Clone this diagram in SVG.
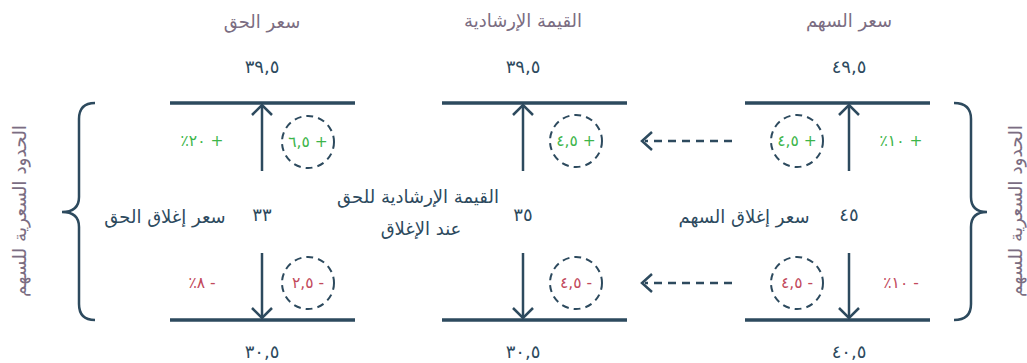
<svg xmlns="http://www.w3.org/2000/svg" width="1027" height="363" viewBox="0 0 1027 363">
<defs>
<style>
text{font-family:"DejaVu Sans","Noto Sans",sans-serif;text-anchor:middle;dominant-baseline:central}
.hdr{fill:#7b6d82;font-size:18px}
.num{fill:#2d4a5e;font-size:18px;direction:ltr;unicode-bidi:bidi-override}
.lbl{fill:#2d4a5e;font-size:18px}
.g{fill:#3db54a;font-size:15.5px;direction:ltr;unicode-bidi:bidi-override}
.r{fill:#c24a5c;font-size:15.5px;direction:ltr;unicode-bidi:bidi-override}
.bar{stroke:#2d4a5e;stroke-width:3.5;fill:none}
.arr{stroke:#2d4a5e;stroke-width:2.5;fill:none}
.circ{stroke:#2d4a5e;stroke-width:2;fill:none;stroke-dasharray:7 5}
.dash{stroke:#2d4a5e;stroke-width:2.5;fill:none;stroke-dasharray:8 6}
.brace{stroke:#2d4a5e;stroke-width:2.5;fill:none}
.side{fill:#7b6d82;font-size:18.5px}
</style>
</defs>
<rect width="1027" height="363" fill="#ffffff"/>

<g id="col-right-left">
<text class="hdr" x="262" y="21">سعر الحق</text>
<text class="num" x="262" y="66">٣٩,٥</text>
<line class="bar" x1="170" y1="103" x2="355" y2="103"/>
<line class="bar" x1="170" y1="320" x2="355" y2="320"/>
<text class="lbl" x="262" y="214">٣٣</text>
<text class="lbl" x="165" y="216">سعر إغلاق الحق</text>
<text class="num" x="262" y="351">٣٠,٥</text>
<text class="g" x="202" y="141">٪٢٠ +</text>
<text class="r" x="202" y="283">٪٨ -</text>
</g>

<g id="col-middle">
<text class="hdr" x="523" y="20">القيمة الإرشادية</text>
<text class="num" x="523" y="66">٣٩,٥</text>
<line class="bar" x1="442" y1="103" x2="627" y2="103"/>
<line class="bar" x1="442" y1="320" x2="627" y2="320"/>
<text class="lbl" x="523" y="214">٣٥</text>
<text class="lbl" x="418" y="196">القيمة الإرشادية للحق</text>
<text class="lbl" x="421" y="228">عند الإغلاق</text>
<text class="num" x="523" y="351">٣٠,٥</text>
</g>

<g id="col-right">
<text class="hdr" x="849" y="20">سعر السهم</text>
<text class="num" x="849" y="66">٤٩,٥</text>
<line class="bar" x1="745" y1="103" x2="930" y2="103"/>
<line class="bar" x1="745" y1="320" x2="930" y2="320"/>
<text class="lbl" x="849" y="214">٤٥</text>
<text class="lbl" x="744" y="216">سعر إغلاق السهم</text>
<text class="num" x="849" y="351">٤٠,٥</text>
<text class="g" x="901" y="141">٪١٠ +</text>
<text class="r" x="901" y="283">٪١٠ -</text>
</g>

<g id="circle-lt"><circle class="circ" cx="308" cy="142" r="26"/><text class="g" x="308" y="142">٦,٥ +</text></g>
<g id="circle-lb"><circle class="circ" cx="308" cy="283" r="26"/><text class="r" x="308" y="283">٢,٥ -</text></g>
<g id="circle-mt"><circle class="circ" cx="576" cy="141" r="26"/><text class="g" x="576" y="141">٤,٥ +</text></g>
<g id="circle-mb"><circle class="circ" cx="576" cy="283" r="26"/><text class="r" x="576" y="283">٤,٥ -</text></g>
<g id="circle-rt"><circle class="circ" cx="797" cy="141" r="26"/><text class="g" x="797" y="141">٤,٥ +</text></g>
<g id="circle-rb"><circle class="circ" cx="797" cy="283" r="26"/><text class="r" x="797" y="283">٤,٥ -</text></g>

<g id="brace-left">
<path class="brace" d="M95,103 Q79,103 79,119 L79,197 Q79,212 62,212 Q79,212 79,227 L79,304 Q79,320 95,320"/>
<text class="side" transform="translate(19,211) rotate(-90)">الحدود السعرية للسهم</text>
</g>
<g id="brace-right">
<path class="brace" d="M954,103 Q971,103 971,119 L971,197 Q971,212 987,212 Q971,212 971,227 L971,304 Q971,320 954,320"/>
<text class="side" transform="translate(1015,211) rotate(-90)">الحدود السعرية للسهم</text>
</g>

<g id="connectors">
<line class="arr" x1="262" y1="171" x2="262" y2="105"/>
<polyline class="arr" points="252,115 262,105 272,115"/>
<line class="arr" x1="262" y1="253" x2="262" y2="318"/>
<polyline class="arr" points="252,308 262,318 272,308"/>
<line class="arr" x1="523" y1="171" x2="523" y2="105"/>
<polyline class="arr" points="513,115 523,105 533,115"/>
<line class="arr" x1="523" y1="253" x2="523" y2="318"/>
<polyline class="arr" points="513,308 523,318 533,308"/>
<line class="arr" x1="849" y1="171" x2="849" y2="105"/>
<polyline class="arr" points="839,115 849,105 859,115"/>
<line class="arr" x1="849" y1="253" x2="849" y2="318"/>
<polyline class="arr" points="839,308 849,318 859,308"/>
<line class="dash" x1="732" y1="141" x2="645" y2="141"/>
<polyline class="arr" points="652,132 642,141 652,150"/>
<line class="dash" x1="732" y1="283" x2="645" y2="283"/>
<polyline class="arr" points="652,274 642,283 652,292"/>
</g>
</svg>
